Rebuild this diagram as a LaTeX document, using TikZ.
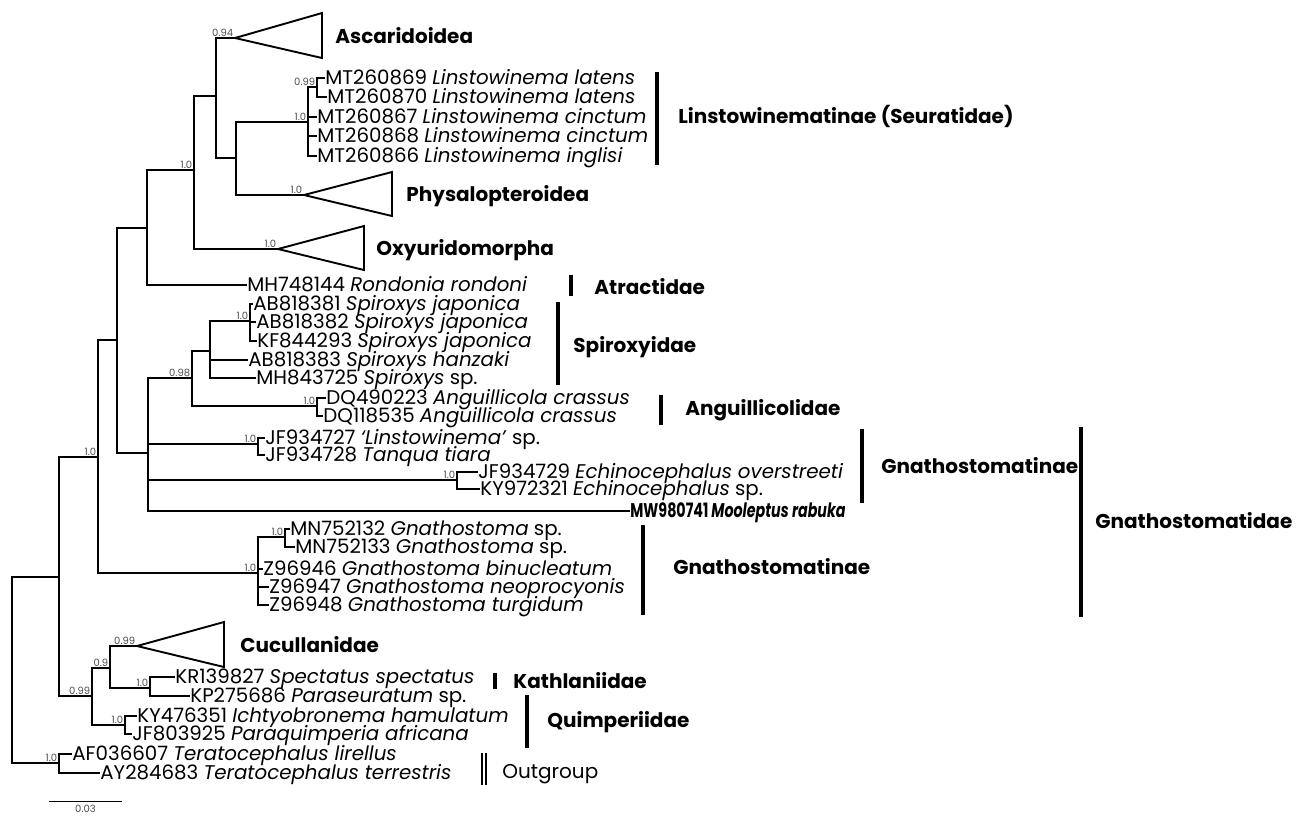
\documentclass[tikz,border=0pt]{standalone}
\usepackage{fontspec}
\setmainfont{Poppins}
\usetikzlibrary{positioning}

\begin{document}
\begin{tikzpicture}[x=0.5pt, y=-0.5pt,
    br/.style={line width=1pt},
    tri/.style={line width=0.95pt, line join=miter},
    bar/.style={line width=1.7pt},
    leaf/.style={anchor=west, inner sep=0pt, text height=6.8pt, text depth=0pt, font=\fontsize{9.9}{11}\selectfont},
    leafb/.style={leaf, font=\fontsize{9.9}{11}\selectfont\bfseries},
    grp/.style={anchor=west, inner sep=0pt, text height=7pt, text depth=0pt, font=\fontsize{10}{12}\selectfont\bfseries},
    pp/.style={anchor=south east, inner sep=0.7pt, font=\fontsize{5}{6}\selectfont, text=black!70}]
    \useasboundingbox (0,0) rectangle (1296,816);

    \coordinate (root) at (12,670);
    \coordinate (nO) at (59,763);
    \coordinate (nA) at (59,577);
    \coordinate (nB) at (98,457);
    \coordinate (nC) at (92,696);
    \coordinate (nD) at (117,340);
    \coordinate (nE) at (147,228);
    \coordinate (nF) at (194,170);
    \coordinate (nG) at (216,96);
    \coordinate (nH) at (236,158);
    \coordinate (nL) at (308,122);
    \coordinate (nLa) at (317,87);
    \coordinate (nP) at (148,453);
    \coordinate (nS) at (192,378);
    \coordinate (nSp) at (210,351);
    \coordinate (nSj) at (250,321);
    \coordinate (nAn) at (317,406);
    \coordinate (nJ) at (258,444);
    \coordinate (nEc) at (457,480);
    \coordinate (nGn) at (258,573);
    \coordinate (nGa) at (285,537);
    \coordinate (nCu) at (110,668);
    \coordinate (nK) at (150,688);
    \coordinate (nQ) at (125,725);
    \coordinate (asc) at (235,38);
    \coordinate (phy) at (304,195);
    \coordinate (oxy) at (278,249);
    \coordinate (cuc) at (137,646);

    \foreach \n/\x/\y/\t in {
        mt69/325/78/{MT260869 \textit{Linstowinema latens}},
        mt70/327/97/{MT260870 \textit{Linstowinema latens}},
        mt67/317/117/{MT260867 \textit{Linstowinema cinctum}},
        mt68/317/136/{MT260868 \textit{Linstowinema cinctum}},
        mt66/317/156/{MT260866 \textit{Linstowinema inglisi}},
        mh44/247/285/{MH748144 \textit{Rondonia rondoni}},
        ab81/253/304/{AB818381 \textit{Spiroxys japonica}},
        ab82/256/322/{AB818382 \textit{Spiroxys japonica}},
        kf93/257/341/{KF844293 \textit{Spiroxys japonica}},
        ab83/248/360/{AB818383 \textit{Spiroxys hanzaki}},
        mh25/256/378/{MH843725 \textit{Spiroxys} sp.},
        dq23/326/398/{DQ490223 \textit{Anguillicola crassus}},
        dq35/323/416/{DQ118535 \textit{Anguillicola crassus}},
        jf27/265/438/{JF934727 \textit{`Linstowinema'} sp.},
        jf28/265/455/{JF934728 \textit{Tanqua tiara}},
        jf29/478/472/{JF934729 \textit{Echinocephalus overstreeti}},
        ky21/480/489/{KY972321 \textit{Echinocephalus} sp.},
        mn32/290/529/{MN752132 \textit{Gnathostoma} sp.},
        mn33/295/547/{MN752133 \textit{Gnathostoma} sp.},
        z46/263/569/{Z96946 \textit{Gnathostoma binucleatum}},
        z47/269/587/{Z96947 \textit{Gnathostoma neoprocyonis}},
        z48/269/605/{Z96948 \textit{Gnathostoma turgidum}},
        kr27/175/677/{KR139827 \textit{Spectatus spectatus}},
        kp86/190/696/{KP275686 \textit{Paraseuratum} sp.},
        ky51/137/716/{KY476351 \textit{Ichtyobronema hamulatum}},
        jf25/132/734/{JF803925 \textit{Paraquimperia africana}},
        af07/72/754/{AF036607 \textit{Teratocephalus lirellus}},
        ay83/100/773/{AY284683 \textit{Teratocephalus terrestris}}}
        \node[leaf] (\n) at (\x,\y) {\t};
    \node[leafb] (mw41) at (630,511) {\scalebox{0.72}[1]{MW980741 \textit{Mooleptus rabuka}}};

    \foreach \p/\c in {root/nO, root/nA, nO/af07, nO/ay83, nA/nB, nA/nC,
        nB/nD, nB/nGn, nD/nE, nD/nP, nE/nF, nE/mh44, nF/nG, nF/oxy,
        nG/asc, nG/nH, nH/nL, nH/phy, nL/nLa, nL/mt67, nL/mt68, nL/mt66,
        nLa/mt69, nLa/mt70, nP/nS, nP/nJ, nP/nEc, nP/mw41, nS/nSp, nS/nAn,
        nSp/nSj, nSp/ab83, nSp/mh25, nSj/ab81, nSj/ab82, nSj/kf93,
        nAn/dq23, nAn/dq35, nJ/jf27, nJ/jf28, nEc/jf29, nEc/ky21,
        nGn/nGa, nGn/z46, nGn/z47, nGn/z48, nGa/mn32, nGa/mn33,
        nC/nCu, nC/nQ, nCu/cuc, nCu/nK, nK/kr27, nK/kp86, nQ/ky51, nQ/jf25}
        \draw[br] (\p) |- (\c);

    \foreach \c/\r/\ya/\yb in {asc/322/13/58, phy/392/172/216, oxy/364/226/270, cuc/224/622/667}
        \draw[tri] (\c) -- (\r,\ya) -- (\r,\yb) -- cycle;

    \foreach \c/\v in {nO/1.0, nB/1.0, nC/0.99, nF/1.0, asc/0.94, nL/1.0, nLa/0.99,
        phy/1.0, oxy/1.0, nS/0.98, nSj/1.0, nAn/1.0, nJ/1.0, nEc/1.0,
        nGn/1.0, nGa/1.0, nCu/0.9, cuc/0.99, nK/1.0, nQ/1.0}
        \node[pp] (s\c) at (\c) {\v};

    \foreach \n/\lx/\ly/\t in {ascl/335/36/Ascaridoidea, phyl/406/194/Physalopteroidea,
        oxyl/376/248/Oxyuridomorpha, cucl/240/645/Cucullanidae}
        \node[grp] (\n) at (\lx,\ly) {\t};

    \foreach \n/\x/\ya/\yb/\lx/\ly/\t in {
        lin/657/72/165/678/116/{Linstowinematinae (Seuratidae)},
        atr/571/275/296/594/287/Atractidae,
        spi/558/302/385/573/345/Spiroxyidae,
        ang/661/395/425/685/408/Anguillicolidae,
        gnu/862/429/503/881/466/Gnathostomatinae,
        gnd/1081/427/617/1095/521/Gnathostomatidae,
        gnl/643/525/615/673/567/Gnathostomatinae,
        kat/495/673/689/513/681/Kathlaniidae,
        qui/527/695/748/547/720/Quimperiidae}
        {
        \draw[bar] (\x,\ya) coordinate (\n t) -- (\x,\yb) coordinate (\n b);
        \node[grp] (\n) at (\lx,\ly) {\t};
        }

    \draw[line width=0.7pt] (482,753) coordinate (outa) -- (482,785);
    \draw[line width=0.7pt] (486,753) coordinate (outb) -- (486,785);
    \node[grp, font=\fontsize{10}{12}\selectfont] (outl) at (502,771) {Outgroup};

    \coordinate (sba) at (49,801);
    \coordinate (sbb) at (122,801);
    \coordinate (sbm) at (85.5,801);
    \draw[line width=0.5pt] (sba) -- (sbb);
    \node[pp, anchor=north, inner sep=0pt] (sbl) [below=2pt of sbm] {0.03};
\end{tikzpicture}
\end{document}
